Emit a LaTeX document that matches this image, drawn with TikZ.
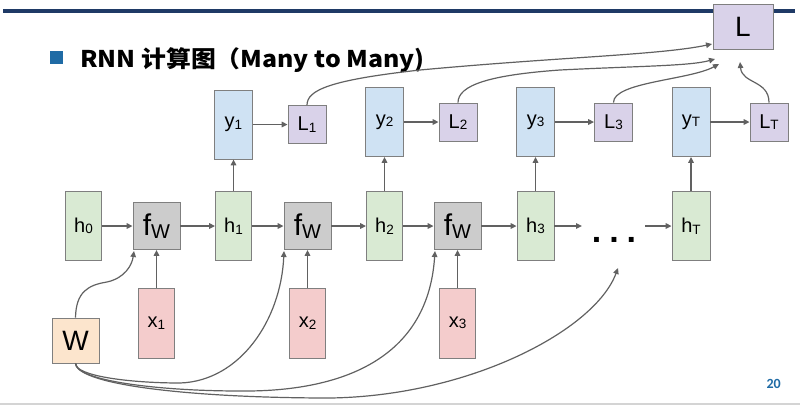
\documentclass[tikz,border=0pt]{standalone}
\usepackage{fontspec}
\setmainfont{Liberation Sans}
\newfontfamily\cjk{Noto Sans CJK SC}
\newfontfamily\numfont{Carlito}
\usetikzlibrary{arrows.meta,calc}
\definecolor{hgreen}{HTML}{D9EAD3}
\definecolor{fgray}{HTML}{CCCCCC}
\definecolor{yblue}{HTML}{CFE2F3}
\definecolor{lpurple}{HTML}{D9D2E9}
\definecolor{xred}{HTML}{F4CCCC}
\definecolor{worange}{HTML}{FCE5CD}
\definecolor{boxline}{HTML}{7F7F7F}
\definecolor{arrgray}{HTML}{616161}
\definecolor{navy}{HTML}{1F3A66}
\definecolor{titleblue}{HTML}{1F6BA5}
\definecolor{botline}{HTML}{D4D4D4}
\newcommand\sbs[1]{\raisebox{-1.5pt}{\fontsize{13.5}{13.5}\selectfont #1}}
\begin{document}
\begin{tikzpicture}[x=1pt,y=-1pt,
  box/.style={draw=boxline, line width=0.8pt, inner sep=0pt, font=\fontsize{20}{20}\selectfont},
  hbox/.style={box, fill=hgreen, minimum width=36pt, minimum height=69pt},
  fbox/.style={box, fill=fgray, minimum width=47pt, minimum height=47pt},
  ybox/.style={box, fill=yblue, minimum width=38pt, minimum height=69pt},
  lbox/.style={box, fill=lpurple, minimum width=38pt, minimum height=38pt},
  xbox/.style={box, fill=xred, minimum width=36pt, minimum height=70pt},
  arr/.style={draw=arrgray, line width=1.4pt, -{Triangle[length=6pt,width=5.5pt]}},
  curv/.style={draw=arrgray, line width=1.2pt, -{Triangle[length=6pt,width=5.5pt]}}
]
\useasboundingbox (0,0) rectangle (800,405);
% frame lines
\draw[line width=4pt, navy] (3,10.5) -- (795,10.5);
\draw[line width=1.5pt, botline] (0,404) -- (800,404);
% title
\node[fill=titleblue, minimum size=13pt, inner sep=0pt] (bullet) at (56.5,57.5) {};
\node[anchor=base west, inner sep=0pt] (title) at (80,67)
  {\scalebox{1.08}[1]{\cjk\bfseries\fontsize{23}{23}\selectfont RNN 计算图（Many to Many)}};
\node[anchor=base east, inner sep=0pt, text=titleblue] (page) at (781,388)
  {\numfont\bfseries\fontsize{14}{14}\selectfont 20};
% hidden states
\node[hbox] (h0) at (83.5,226) {h\sbs{0}};
\node[fbox] (f1) at (156.5,226) {\fontsize{30}{30}\selectfont f\raisebox{-3pt}{\fontsize{20}{20}\selectfont W}};
\node[hbox] (h1) at (233.5,226) {h\sbs{1}};
\node[fbox] (f2) at (307.5,226) {\fontsize{30}{30}\selectfont f\raisebox{-3pt}{\fontsize{20}{20}\selectfont W}};
\node[hbox] (h2) at (384.5,226) {h\sbs{2}};
\node[fbox] (f3) at (457.5,226) {\fontsize{30}{30}\selectfont f\raisebox{-3pt}{\fontsize{20}{20}\selectfont W}};
\node[hbox, minimum width=37pt] (h3) at (535.5,226) {h\sbs{3}};
\node[hbox, minimum width=38pt] (hT) at (691,226) {h\sbs{T}};
\node[inner sep=0pt, font=\bfseries\fontsize{34}{34}\selectfont] (dots) at (614,240) {.\hspace{8pt}.\hspace{8pt}.};
\coordinate (d1) at (582,226);
\coordinate (d2) at (645,226);
% outputs
\node[ybox] (y1) at (233.5,124.5) {y\sbs{1}};
\node[ybox] (y2) at (384.5,122) {y\sbs{2}};
\node[ybox] (y3) at (535.5,122) {y\sbs{3}};
\node[ybox] (yT) at (691,122) {y\sbs{T}};
\node[lbox] (L1) at (307,124.5) {L\sbs{1}};
\node[lbox] (L2) at (458,122) {L\sbs{2}};
\node[lbox] (L3) at (613.5,122) {L\sbs{3}};
\node[lbox] (LT) at (769,122) {L\sbs{T}};
\node[box, fill=lpurple, minimum width=60pt, minimum height=45pt, font=\fontsize{28}{28}\selectfont] (L) at (743,26.5) {L};
% inputs
\node[xbox] (x1) at (156.5,323) {x\sbs{1}};
\node[xbox] (x2) at (307.5,323) {x\sbs{2}};
\node[xbox] (x3) at (457.5,323) {x\sbs{3}};
\node[box, fill=worange, minimum width=47pt, minimum height=45pt, font=\fontsize{28}{28}\selectfont] (W) at (75.5,340.5) {W};
% chain arrows
\draw[arr] (h0) -- (f1);
\draw[arr] (f1) -- (h1);
\draw[arr] (h1) -- (f2);
\draw[arr] (f2) -- (h2);
\draw[arr] (h2) -- (f3);
\draw[arr] (f3) -- (h3);
\draw[arr] (h3) -- (d1);
\draw[arr] (d2) -- (hT);
\draw[arr] (x1) -- (f1);
\draw[arr] (x2) -- (f2);
\draw[arr] (x3) -- (f3);
\draw[arr] (h1) -- (y1);
\draw[arr] (h2) -- (y2);
\draw[arr] (h3) -- (y3);
\draw[arr] (hT) -- (yT);
\draw[arr] (y1) -- (L1);
\draw[arr] (y2) -- (L2);
\draw[arr] (y3) -- (L3);
\draw[arr] (yT) -- (LT);
% losses to L
\coordinate (t1) at (712,44);
\coordinate (t2) at (715,59);
\coordinate (t3) at (719,64);
\coordinate (t4) at (740,62);
\draw[curv] (L1.north) .. controls (307,90) and (330,80) .. (420,70) .. controls (560,57) and (660,55) .. (t1);
\draw[curv] (L2.north) .. controls (458,85) and (490,75) .. (560,70) .. controls (640,66) and (690,66) .. (t2);
\draw[curv] (L3.north) .. controls (613,82) and (690,80) .. (t3);
\draw[curv] (LT.north) .. controls (769,80) and (742,84) .. (t4);
% W to fW
\coordinate (w1) at (134,251);
\coordinate (w2) at (284,251);
\coordinate (w3) at (435,251);
\coordinate (w4) at (618,268);
\draw[curv] (W.north) .. controls (76,292) and (88,285) .. (107,282) .. controls (125,278) and (132,265) .. (w1);
\draw[curv] (W.south) .. controls (75,376) and (130,383) .. (180,383) .. controls (240,381) and (281,320) .. (w2);
\draw[curv] (W.south) .. controls (76,381) and (160,391) .. (240,391) .. controls (340,392) and (428,360) .. (w3);
\draw[curv] (W.south) .. controls (78,386) and (200,398) .. (330,398) .. controls (470,396) and (595,330) .. (w4);
\end{tikzpicture}
\end{document}
